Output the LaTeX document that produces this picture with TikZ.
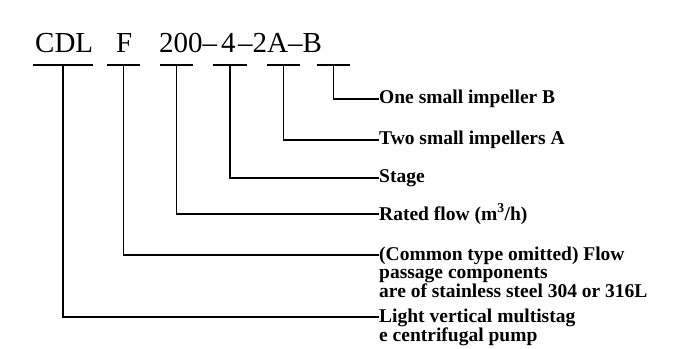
\documentclass[tikz,border=0pt]{standalone}
\usepackage{fontspec}
\setmainfont{Liberation Serif}
\usetikzlibrary{positioning}

\begin{document}
\begin{tikzpicture}[x=1pt,y=-1pt,
	code/.style={inner sep=0pt, anchor=base west, font=\fontsize{29}{32}\selectfont},
	lbl/.style={inner sep=0pt, anchor=west, align=left, font=\bfseries\fontsize{19.5}{18}\selectfont},
	bar/.style={line width=1.2pt},
	lead/.style={line width=1.2pt}]
\useasboundingbox (0,0) rectangle (687,348);
% model code
\node[code] (cdl) at (35,52) {CDL};
\node[code] (f) at (116,52) {F};
\node[code] (flow) at (159,52) {200–};
\node[code] (stg) at (221,52) {4};
\node[code] (imp) at (238,52) {–2A–B};
% bars under the code
\coordinate (b1) at (63,65);
\coordinate (b2) at (123.5,65);
\coordinate (b3) at (176.5,65);
\coordinate (b4) at (230,65);
\coordinate (b5) at (283.5,65);
\coordinate (b6) at (333.5,65);
\foreach \b/\w in {b1/30,b2/16.5,b3/16.5,b4/17,b5/16.5,b6/16.5}
	\draw[bar] ([xshift=-\w pt]\b) -- ([xshift=\w pt]\b);
% line ends
\coordinate (e6) at (377,99);
\coordinate (e5) at (377,140);
\coordinate (e4) at (377,178);
\coordinate (e3) at (377,214);
\coordinate (e2) at (377,255);
\coordinate (e1) at (377,317);
% labels
\node[lbl, right=2pt of e6] (tB) {One small impeller B};
\node[lbl, right=2pt of e5] (tA) {Two small impellers A};
\node[lbl, right=2pt of e4] (tS) {Stage};
\node[lbl, right=2pt of e3] (tR) {Rated flow (m\textsuperscript{3}/h)};
\node[lbl, anchor=north west] (tF) at (379,247) {(Common type omitted) Flow\\passage components\\are of stainless steel 304 or 316L};
\node[lbl, anchor=north west] (tC) at (379,309) {Light vertical multistag\\e centrifugal pump};
% leaders
\draw[lead] (b6) |- (tB.west);
\draw[lead] (b5) |- (tA.west);
\draw[lead] (b4) |- (tS.west);
\draw[lead] (b3) |- (tR.west);
\draw[lead] (b2) |- (e2) -- (e2 -| tF.west);
\draw[lead] (b1) |- (e1) -- (e1 -| tC.west);
\end{tikzpicture}
\end{document}
